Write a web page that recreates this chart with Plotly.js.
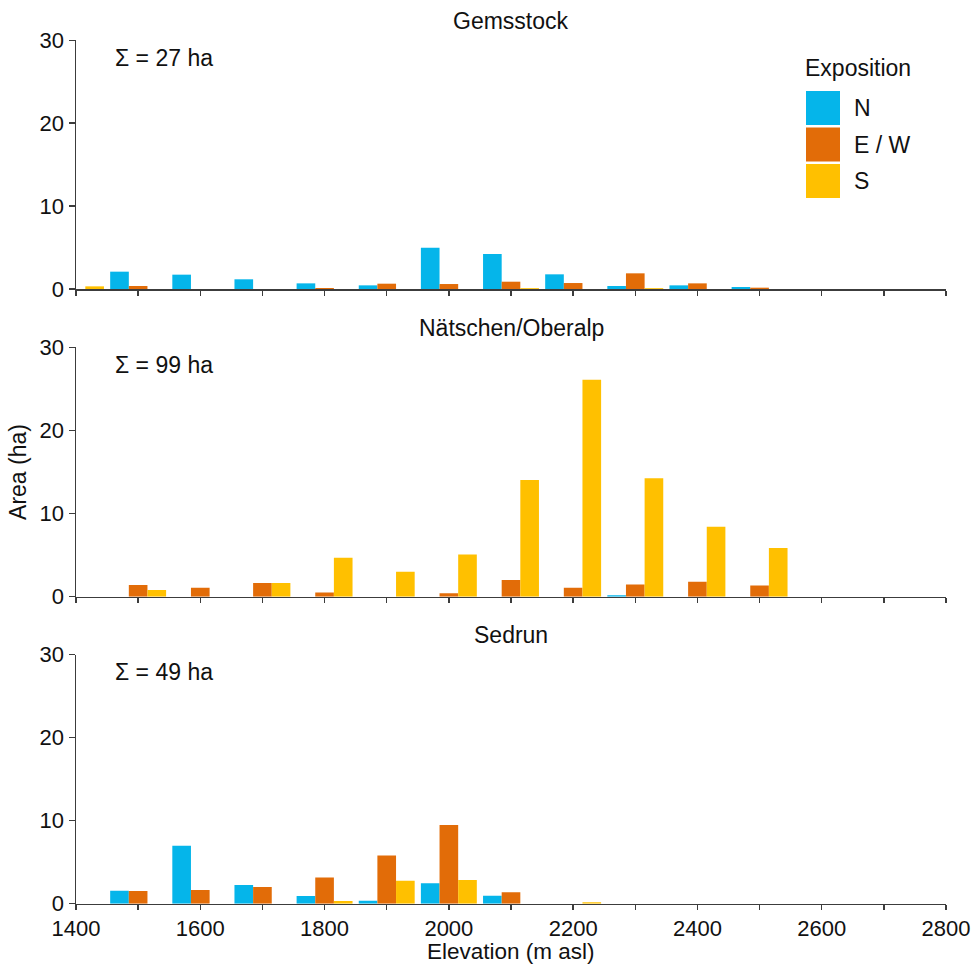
<!DOCTYPE html>
<html>
<head>
<meta charset="utf-8">
<script src="https://cdn.plot.ly/plotly-3.0.1.min.js"></script>
<style>html,body{margin:0;padding:0;background:#fff;}#chart{width:974px;height:965px;}</style>
</head>
<body>
<div id="chart"></div>
<script>
// ---- data ----
const elevation = [1400, 1500, 1600, 1700, 1800, 1900, 2000, 2100, 2200, 2300, 2400, 2500];
const expositions = ["N", "E / W", "S"];
const sites = ["Gemsstock", "Nätschen/Oberalp", "Sedrun"];
const totals = ["Σ = 27 ha", "Σ = 99 ha", "Σ = 49 ha"];
const xTitle = "Elevation (m asl)";
const yTitle = "Area (ha)";

// Gemsstock
const gemsN  = [0, 2.09, 1.73, 1.17, 0.68, 0.44, 4.99, 4.22, 1.77, 0.36, 0.44, 0.24];
const gemsEW = [0, 0.36, 0, 0, 0.12, 0.64, 0.60, 0.88, 0.72, 1.89, 0.68, 0.16];
const gemsS  = [0.32, 0, 0, 0, 0, 0, 0, 0.10, 0, 0.10, 0, 0];
// Nätschen/Oberalp
const naetN  = [0, 0, 0, 0, 0, 0, 0, 0, 0, 0.16, 0, 0];
const naetEW = [0, 1.40, 1.08, 1.64, 0.52, 0, 0.40, 2.00, 1.08, 1.48, 1.80, 1.36];
const naetS  = [0, 0.80, 0, 1.64, 4.69, 3.01, 5.09, 14.04, 26.10, 14.24, 8.42, 5.86];
// Sedrun
const sedN   = [0, 1.57, 6.99, 2.25, 0.92, 0.36, 2.45, 0.96, 0, 0, 0, 0];
const sedEW  = [0, 1.53, 1.65, 2.01, 3.17, 5.82, 9.48, 1.37, 0, 0, 0, 0];
const sedS   = [0, 0, 0, 0, 0.32, 2.77, 2.85, 0, 0.16, 0, 0, 0];

const xTickVals = [1400, 1500, 1600, 1700, 1800, 1900, 2000, 2100, 2200, 2300, 2400, 2500, 2600, 2700, 2800];
const xTickText = ["1400", "", "1600", "", "1800", "", "2000", "", "2200", "", "2400", "", "2600", "", "2800"];
const yTickVals = [0, 10, 20, 30];

// ---- styling ----
const colors = ["#05B5EA", "#E26C08", "#FFC000"];
const font = "Liberation Sans, Arial, sans-serif";
const axisColor = "#3c3c3c";
const txt = "#111";
const TS = 23; // text size
const NS = 22; // tick label size

const seriesBySite = [[gemsN, gemsEW, gemsS], [naetN, naetEW, naetS], [sedN, sedEW, sedS]];
const axIds = ["", "2", "3"];

const traces = [];
seriesBySite.forEach((ser, si) => {
  ser.forEach((vals, ei) => {
    traces.push({
      type: "bar",
      x: elevation,
      y: vals,
      name: expositions[ei],
      xaxis: "x" + axIds[si],
      yaxis: "y" + axIds[si],
      marker: {color: colors[ei], line: {width: 0}},
      showlegend: false,
      hoverinfo: "x+y+name"
    });
  });
});

// layout geometry (pixels -> paper)
const L = 76, R = 28, T = 40, B = 61, W = 974, H = 965;
const pw = W - L - R, ph = H - T - B;
const px2x = px => (px - L) / pw;
const py2y = py => (H - B - py) / ph;

const domains = [[py2y(289), py2y(40.3)], [py2y(596.7), py2y(347.3)], [py2y(903.7), py2y(654.7)]];

const layout = {
  width: W, height: H,
  margin: {l: L, r: R, t: T, b: B, pad: 0},
  paper_bgcolor: "#fff", plot_bgcolor: "#fff",
  font: {family: font, size: TS, color: txt},
  barmode: "group",
  bargap: 0.1,
  bargroupgap: 0,
  showlegend: false,
  annotations: [],
  shapes: []
};

axIds.forEach((id, i) => {
  const xa = {
    range: [1400, 2800],
    tickmode: "array",
    tickvals: xTickVals,
    ticktext: i === 2 ? xTickText : xTickVals.map(() => ""),
    ticks: "outside", ticklen: 5, tickwidth: 1.5, tickcolor: axisColor,
    ticklabelstandoff: -1,
    showline: true, linecolor: axisColor, linewidth: 1.5,
    showgrid: false, zeroline: false,
    anchor: "y" + id,
    tickfont: {size: NS, color: txt}
  };
  if (i > 0) xa.matches = "x";
  const ya = {
    domain: domains[i],
    range: [0, 30],
    tickmode: "array",
    tickvals: yTickVals,
    ticks: "outside", ticklen: 6, tickwidth: 1.5, tickcolor: axisColor,
    showline: true, linecolor: axisColor, linewidth: 1.5,
    showgrid: false, zeroline: false,
    anchor: "x" + id,
    tickfont: {size: NS, color: txt}
  };
  if (i === 1) ya.title = {text: yTitle, font: {size: TS, color: txt}, standoff: 6};
  layout["xaxis" + id] = xa;
  layout["yaxis" + id] = ya;

  // panel title
  layout.annotations.push({
    text: sites[i], xref: "paper", yref: "y" + id + " domain",
    x: 0.5, y: 1.078, xanchor: "center", yanchor: "middle",
    showarrow: false, font: {size: TS, color: txt}
  });
  // total annotation
  layout.annotations.push({
    text: totals[i], xref: "paper", yref: "y" + id + " domain",
    x: px2x(113), y: 0.93, xanchor: "left", yanchor: "middle",
    showarrow: false, font: {size: TS, color: txt}
  });
});

// x axis title (below bottom panel)
layout.annotations.push({
  text: xTitle, xref: "paper", yref: "paper",
  x: 0.5, y: py2y(951.5), xanchor: "center", yanchor: "middle",
  showarrow: false, borderpad: 0, font: {size: 22.5, color: txt}
});

// manual legend
layout.annotations.push({
  text: "Exposition", xref: "paper", yref: "paper",
  x: px2x(803), y: py2y(68), xanchor: "left", yanchor: "middle",
  showarrow: false, font: {size: TS, color: txt}
});
const swTops = [91, 127.5, 164];
expositions.forEach((name, i) => {
  layout.shapes.push({
    type: "rect", xref: "paper", yref: "paper",
    x0: px2x(806), x1: px2x(840), y0: py2y(swTops[i] + 34), y1: py2y(swTops[i]),
    fillcolor: colors[i], line: {width: 0}
  });
  layout.annotations.push({
    text: name, xref: "paper", yref: "paper",
    x: px2x(852), y: py2y(swTops[i] + 17), xanchor: "left", yanchor: "middle",
    showarrow: false, font: {size: TS, color: txt}
  });
});

Plotly.newPlot("chart", traces, layout, {displayModeBar: false, staticPlot: true});
</script>
</body>
</html>
